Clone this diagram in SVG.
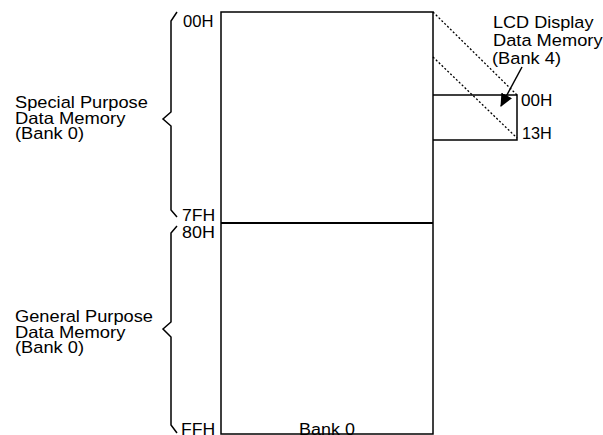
<svg xmlns="http://www.w3.org/2000/svg" width="603" height="435" viewBox="0 0 603 435">
<style>
text{font-family:"Liberation Sans",Arial,sans-serif;font-size:16.3px;fill:#000}
.ln{fill:none;stroke:#000;stroke-width:1.5}
.dash{fill:none;stroke:#000;stroke-width:1.3;stroke-dasharray:2 2}
</style>
<defs>
<marker id="ah" markerWidth="13" markerHeight="12" refX="12" refY="6" orient="auto" markerUnits="userSpaceOnUse" viewBox="0 0 13 12">
<path d="M0,0 L13,6 L0,12 Z" fill="#000"/>
</marker>
</defs>
<rect width="603" height="435" fill="#fff"/>
<g id="bank0">
<rect class="ln" x="221" y="12" width="212" height="422"/>
<line x1="221" y1="223" x2="433" y2="223" stroke="#000" stroke-width="2"/>
<text transform="translate(327,435) scale(1.1,1)" text-anchor="middle">Bank 0</text>
</g>
<g id="lcd">
<polyline class="ln" points="433,95 517,95 517,140 433,140"/>
<text transform="translate(521,106) scale(1.05,1)">00H</text>
<text transform="translate(522,139) scale(1.0,1)">13H</text>
<text transform="translate(493,28) scale(1.11,1)">LCD Display</text>
<text transform="translate(493,46) scale(1.12,1)">Data Memory</text>
<text transform="translate(492,64) scale(1.12,1)">(Bank 4)</text>
</g>
<g id="special">
<path class="ln" d="M177,12 L171,21 L171,112 L163,119 L171,126 L171,210 L177,217"/>
<text transform="translate(183,27) scale(1.02,1)">00H</text>
<text transform="translate(182,221) scale(1.08,1)">7FH</text>
<text transform="translate(15,108) scale(1.12,1)">Special Purpose</text>
<text transform="translate(15,123.5) scale(1.13,1)">Data Memory</text>
<text transform="translate(15,139) scale(1.12,1)">(Bank 0)</text>
</g>
<g id="general">
<path class="ln" d="M177,226 L171,233 L171,322 L163,329 L171,337 L171,425 L177,433"/>
<text transform="translate(182,238) scale(1.1,1)">80H</text>
<text transform="translate(181,435) scale(1.08,1)">FFH</text>
<text transform="translate(15,322) scale(1.12,1)">General Purpose</text>
<text transform="translate(15,337.5) scale(1.13,1)">Data Memory</text>
<text transform="translate(15,353) scale(1.12,1)">(Bank 0)</text>
</g>
<g id="connectors">
<line class="dash" x1="433" y1="12" x2="517" y2="95"/>
<line class="dash" x1="433" y1="57" x2="517" y2="138"/>
<line x1="522" y1="67" x2="501" y2="106" stroke="#000" stroke-width="1.5" marker-end="url(#ah)"/>
</g>
</svg>
